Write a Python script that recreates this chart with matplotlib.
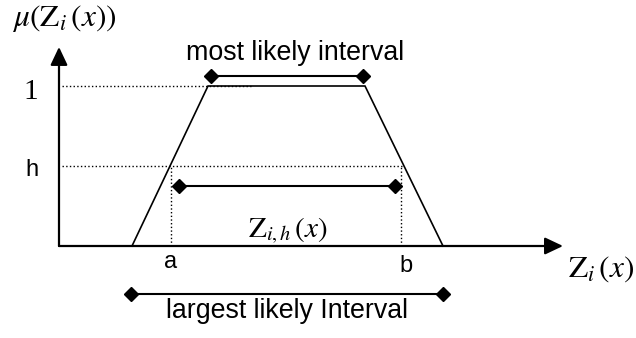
import matplotlib
matplotlib.use("Agg")
import matplotlib.pyplot as plt

plt.rcParams['mathtext.fontset'] = 'stix'
plt.rcParams['font.family'] = ['Liberation Sans', 'DejaVu Sans']

# --- data (chart units: membership on y, Z_i(x) on x) ---
trap_x = [1.825, 3.725, 7.65, 9.6]
trap_y = [0.0, 1.0, 1.0, 0.0]
h_level = 0.5
a_val = 2.8
b_val = 8.55
zh_interval = [3.0, 8.4]
zh_y = 0.375
most_interval = [3.8, 7.6]
most_y = 1.0625
largest_interval = [1.8, 9.6]
largest_y = -0.3
x_axis_end = 12.6
y_axis_end = 1.244

fig = plt.figure(figsize=(6.36, 3.38), dpi=100)
ax = fig.add_axes([0, 0, 1, 1])
ax.set_xlim(-59 / 40, (636 - 59) / 40)
ax.set_ylim(-(338 - 246) / 160, 246 / 160)
ax.axis('off')

# axes with arrows
arrow_kw = dict(arrowstyle='-|>,head_length=11,head_width=5.2', lw=1.6,
                color='black', shrinkA=0, shrinkB=0, mutation_scale=1)
ax.annotate('', xy=(x_axis_end, 0), xytext=(0, 0), arrowprops=arrow_kw)
ax.annotate('', xy=(0, y_axis_end), xytext=(0, 0), arrowprops=arrow_kw)

# dotted guides
ax.plot([0.075, 4.8], [1, 1], ls=':', lw=1.0, color='black')
ax.plot([0.075, b_val + 0.05], [h_level, h_level], ls=':', lw=1.0, color='black')
ax.plot([a_val, a_val], [0, h_level], ls=':', lw=1.0, color='black')
ax.plot([b_val, b_val], [0, h_level], ls=':', lw=1.0, color='black')

# trapezoid
ax.plot(trap_x, trap_y, color='black', lw=1.2, solid_joinstyle='miter')

# intervals
for xs, yv in [(zh_interval, zh_y), (most_interval, most_y),
               (largest_interval, largest_y)]:
    ax.plot(xs, [yv, yv], color='black', lw=1.5, marker='D', ms=7.5,
            mfc='black', mec='black')

# labels
ax.text(-1.175, 1.425, r'$\mu(\mathrm{Z}_i\,(x))$', fontsize=22.5,
        ha='left', va='center')
ax.text(-0.7, 0.9625, '1', fontsize=21, family='Liberation Serif',
        ha='center', va='center')
ax.text(-0.675, 0.475, 'h', fontsize=17, ha='center', va='center')
ax.text(a_val, -0.1, 'a', fontsize=17, ha='center', va='center')
ax.text(8.675, -0.125, 'b', fontsize=17, ha='center', va='center')
ax.text((568 - 59) / 40, -0.194, r'$\mathrm{Z}_i\,(x)$', fontsize=22.5,
        ha='left', va='baseline')
ax.text(4.725, 0.056, r'$\mathrm{Z}_{i,h}\,(x)$', fontsize=21,
        ha='left', va='baseline')
ax.text(5.9, 1.1625, 'most likely interval', fontsize=19.3,
        ha='center', va='baseline')
ax.text(5.7, -0.45, 'largest likely Interval', fontsize=19.3,
        ha='center', va='baseline')

fig.savefig('out.png', dpi=100)
